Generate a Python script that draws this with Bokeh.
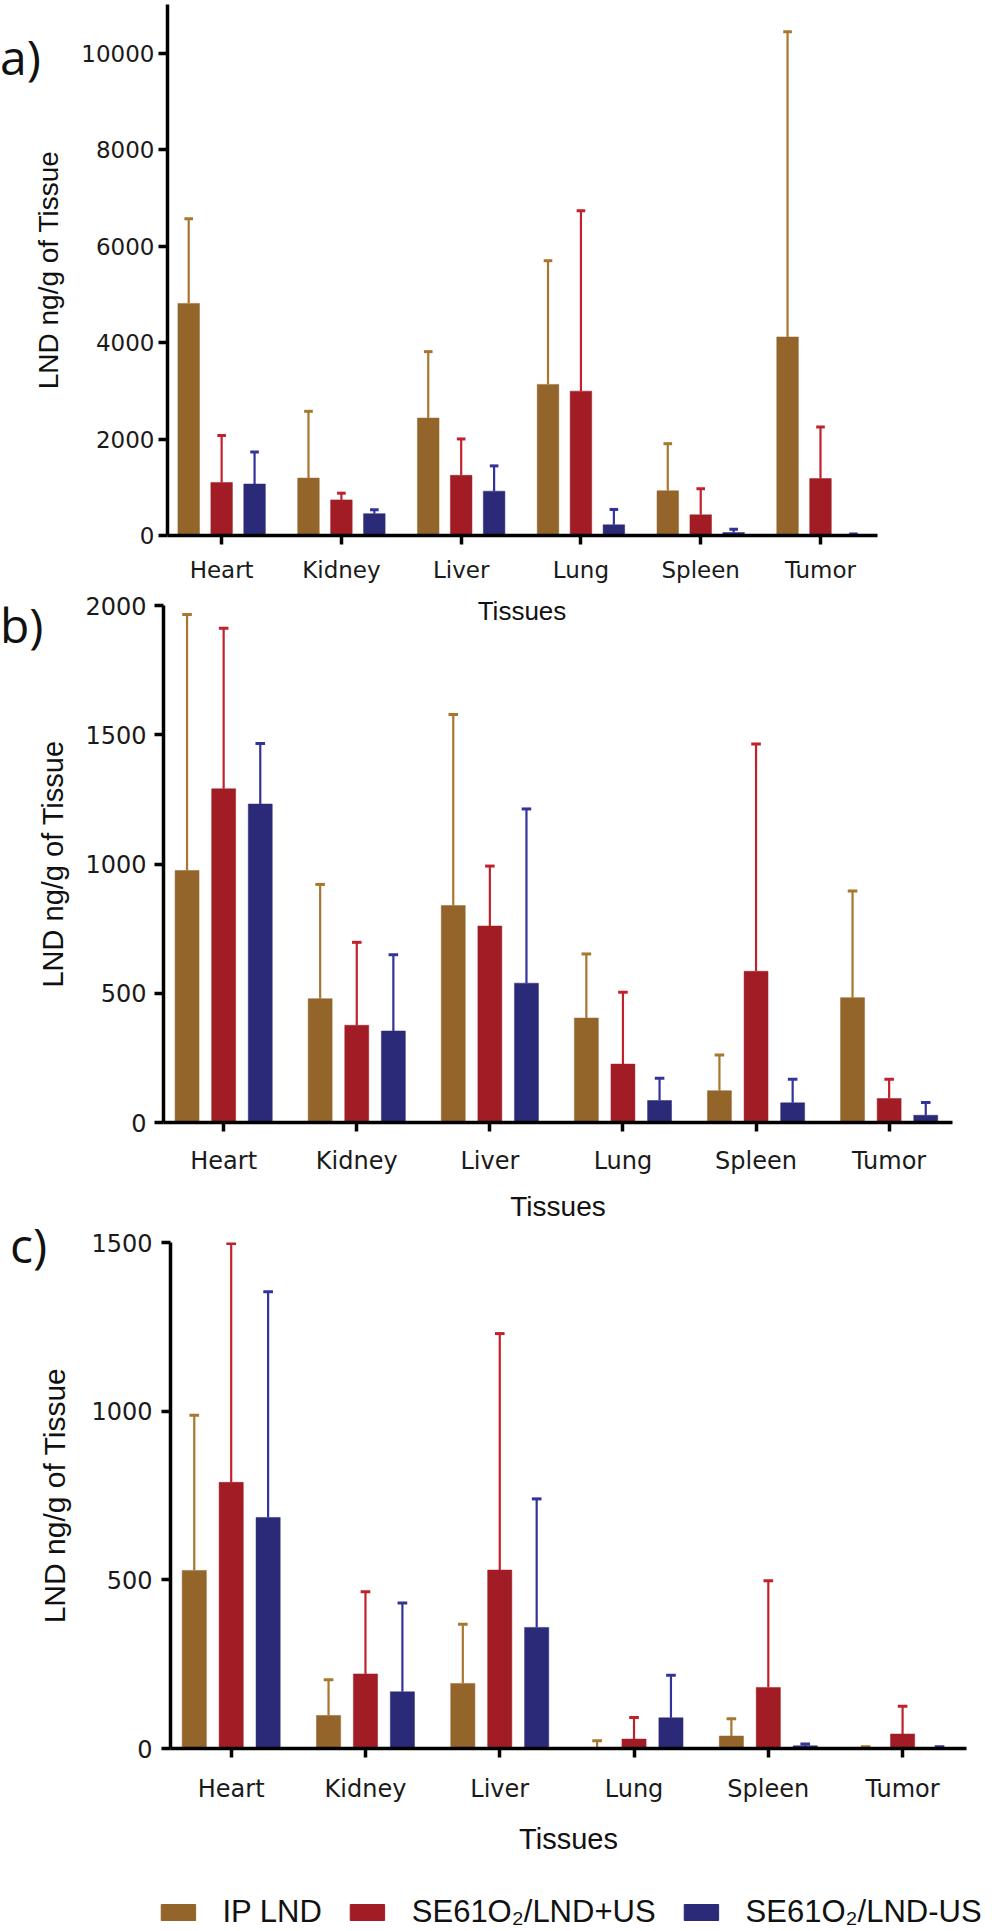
from bokeh.plotting import figure
from bokeh.models import Range1d, FixedTicker, Legend, LegendItem, Div
from bokeh.embed import file_html
from bokeh.resources import INLINE

# ---------------- data ----------------
categories = ["Heart", "Kidney", "Liver", "Lung", "Spleen", "Tumor"]
series_names = ["IP LND", "SE61O\u2082/LND+US", "SE61O\u2082/LND-US"]

# panel a
a_ip_mean = [4815, 1191, 2436, 3135, 928, 4119]
a_ip_sd = [1755, 1385, 1378, 2566, 977, 6331]
a_pus_mean = [1100, 738, 1248, 2995, 428, 1181]
a_pus_sd = [977, 140, 755, 3740, 542, 1068]
a_mus_mean = [1068, 453, 920, 221, 60, 18]
a_mus_sd = [664, 81, 524, 320, 70, 15]
a_yticks = [0, 2000, 4000, 6000, 8000, 10000]

# panel b
b_ip_mean = [975, 479, 839, 404, 123, 483]
b_ip_sd = [990, 442, 739, 248, 138, 413]
b_pus_mean = [1291, 376, 760, 226, 585, 93]
b_pus_sd = [621, 321, 232, 278, 879, 74]
b_mus_mean = [1232, 354, 539, 85, 76, 28]
b_mus_sd = [234, 295, 674, 86, 91, 49]
b_yticks = [0, 500, 1000, 1500, 2000]

# panel c
c_ip_mean = [528, 98, 193, 3, 37, 2]
c_ip_sd = [460, 106, 175, 20, 51, 3]
c_pus_mean = [789, 221, 529, 28, 181, 43]
c_pus_sd = [708, 244, 701, 64, 316, 82]
c_mus_mean = [685, 168, 359, 91, 8, 2]
c_mus_sd = [669, 263, 381, 126, 5, 3]
c_yticks = [0, 500, 1000, 1500]

bar_colors = ["#93652A", "#A11C24", "#2A2A78"]
err_colors = ["#A8772F", "#C0222C", "#33339C"]

W = 992
X0, X1 = 0.548, 6.476      # extent of the category axis
BAR_W = 0.18
OFFS = [-0.275, 0.0, 0.275]


def make_panel(height, left, fwidth, btop, bbottom, y_end,
               means, sds, yticks, tick_fs, ylab_fs, ystandoff,
               ylab_standoff, xstandoff, xlabel, xlab_fs, xlab_standoff):
    p = figure(width=W, height=height, output_backend="svg", toolbar_location=None,
               x_range=Range1d(X0, X1), y_range=Range1d(0, y_end),
               min_border_left=left, min_border_right=W - left - fwidth,
               min_border_top=btop, min_border_bottom=bbottom)
    p.grid.visible = False
    p.outline_line_color = None
    p.background_fill_color = None
    p.border_fill_color = None

    xs = list(range(1, len(categories) + 1))
    for k in range(3):
        xk = [x + OFFS[k] for x in xs]
        upper = [m + s for m, s in zip(means[k], sds[k])]
        p.vbar(x=xk, top=means[k], width=BAR_W, bottom=0,
               fill_color=bar_colors[k], line_color=bar_colors[k], line_width=0.5)
        p.segment(x0=xk, y0=means[k], x1=xk, y1=upper,
                  line_color=err_colors[k], line_width=2.2)
        cw = 0.036
        p.segment(x0=[x - cw for x in xk], y0=upper, x1=[x + cw for x in xk], y1=upper,
                  line_color=err_colors[k], line_width=3)

    xa = p.xaxis[0]
    xa.ticker = FixedTicker(ticks=xs)
    xa.major_label_overrides = {i + 1: c for i, c in enumerate(categories)}
    ya = p.yaxis[0]
    ya.ticker = FixedTicker(ticks=yticks)
    for ax in (xa, ya):
        ax.minor_tick_line_color = None
        ax.major_tick_in = 0
        ax.major_tick_out = 9
        ax.major_tick_line_width = 3.5
        ax.axis_line_width = 3.5
        ax.axis_line_color = "black"
        ax.major_tick_line_color = "black"
        ax.major_label_text_font = "DejaVu Sans"
        ax.major_label_text_font_size = tick_fs
        ax.major_label_text_color = "#1a1a1a"
        ax.axis_label_text_font = "Liberation Sans"
        ax.axis_label_text_font_style = "normal"
        ax.axis_label_text_color = "#111111"
    xa.major_label_standoff = xstandoff
    if xlabel:
        xa.axis_label = xlabel
        xa.axis_label_text_font_size = xlab_fs
        xa.axis_label_standoff = xlab_standoff
    ya.major_label_standoff = ystandoff
    ya.axis_label = "LND ng/g of Tissue"
    ya.axis_label_text_font_size = ylab_fs
    ya.axis_label_standoff = ylab_standoff
    return p


def page_text(text, left, top, font, size, line_h, center=False):
    st = {"position": "absolute", "left": f"{left}px", "top": f"{top}px",
          "font-family": font, "font-size": size, "line-height": line_h,
          "color": "#111111", "white-space": "nowrap", "margin": "0px"}
    if center:
        st["transform"] = "translateX(-50%)"
    return Div(text=text, styles=st)


# ---------------- panel a (page y 0 .. 590) ----------------
pa = make_panel(590, 167, 710, 4, 55, 11016,
                [a_ip_mean, a_pus_mean, a_mus_mean], [a_ip_sd, a_pus_sd, a_mus_sd],
                a_yticks, "23px", "28px", 4, 14, 12, None, None, None)

# ---------------- panel b (page y 590 .. 1225) ----------------
pb = make_panel(635, 163, 789, 15, 103, 2000,
                [b_ip_mean, b_pus_mean, b_mus_mean], [b_ip_sd, b_pus_sd, b_mus_sd],
                b_yticks, "24px", "29px", 8, 13, 15, "Tissues", "28px", 13)

# ---------------- panel c (page y 1225 .. 1862) ----------------
pc = make_panel(637, 170, 796, 17, 114, 1500,
                [c_ip_mean, c_pus_mean, c_mus_mean], [c_ip_sd, c_pus_sd, c_mus_sd],
                c_yticks, "24px", "30px", 9, 17, 17, "Tissues", "29px", 17)

# ---------------- legend strip (page y 1862 .. 1930) ----------------
pd = figure(width=W, height=68, output_backend="svg", toolbar_location=None,
            x_range=Range1d(0, 7), y_range=Range1d(0, 1600),
            x_axis_location=None, y_axis_location=None,
            min_border_left=146, min_border_right=0, min_border_top=0, min_border_bottom=0)
pd.grid.visible = False
pd.outline_line_color = None
pd.background_fill_color = None
pd.border_fill_color = None
xs_all = list(range(1, len(categories) + 1))
swatch_means = [c_ip_mean, c_pus_mean, c_mus_mean]
swatches = [pd.vbar(x=xs_all, top=swatch_means[k], width=BAR_W, visible=False,
                    fill_color=bar_colors[k], line_color=bar_colors[k])
            for k in range(3)]
legend = Legend(items=[LegendItem(label=series_names[k], renderers=[swatches[k]]) for k in range(3)],
                orientation="horizontal", location="bottom_center",
                glyph_width=43, glyph_height=20, label_standoff=23, spacing=24,
                padding=0, margin=0, border_line_alpha=0, background_fill_alpha=0,
                inactive_fill_alpha=0,
                label_text_font="Liberation Sans", label_text_font_size="31px",
                label_text_color="#111111")
pd.add_layout(legend, "center")

# panel letters and panel a's x-axis title, placed on the page
labels = [
    page_text("a)", 0, 24, "Open Sans", "48px", "65px"),
    page_text("b)", 0, 592, "Open Sans", "48px", "65px"),
    page_text("c)", 10, 1212, "Open Sans", "48px", "65px"),
    page_text("Tissues", 522, 596, "Liberation Sans", "26px", "30px", center=True),
]

open("out.html", "w").write(file_html([pa, pb, pc, pd] + labels, INLINE))
